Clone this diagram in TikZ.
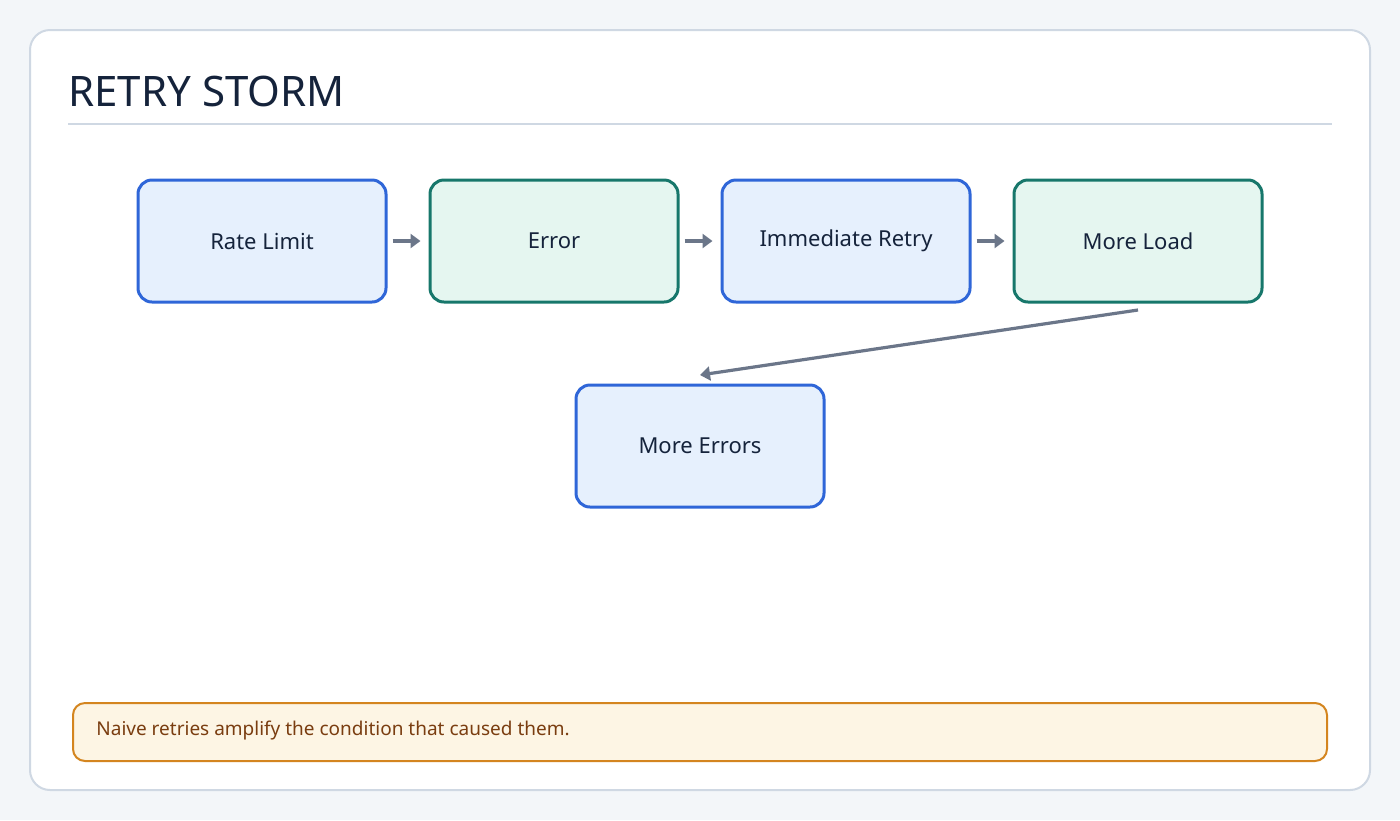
\documentclass[tikz,border=0pt]{standalone}
\usepackage{fontspec}
\setmainfont{Noto Sans}
\usetikzlibrary{arrows.meta}
\definecolor{pagebg}{HTML}{F3F6F9}
\definecolor{cardline}{HTML}{CFD8E3}
\definecolor{titleink}{HTML}{15233B}
\definecolor{blueline}{HTML}{2F66D8}
\definecolor{bluefill}{HTML}{E6F0FD}
\definecolor{greenline}{HTML}{17776B}
\definecolor{greenfill}{HTML}{E5F6F0}
\definecolor{arrowink}{HTML}{6B7689}
\definecolor{noteline}{HTML}{D4851F}
\definecolor{notefill}{HTML}{FDF5E4}
\definecolor{noteink}{HTML}{7A3D10}

\begin{document}
\begin{tikzpicture}[
		x=0.5pt, y=-0.5pt,
		every node/.style={font=\bfseries\fontsize{11}{13}\selectfont, text=titleink},
		stage/.style={rectangle, rounded corners=7pt, line width=1.5pt,
			minimum width=124pt, minimum height=61pt},
		blue stage/.style={stage, draw=blueline, fill=bluefill},
		green stage/.style={stage, draw=greenline, fill=greenfill},
		flow/.style={draw=arrowink, line width=1.6pt, -{Triangle[length=5pt,width=7pt]}}
	]
  \useasboundingbox (0,0) rectangle (1400,820);
  \fill[pagebg] (0,0) rectangle (1400,820);
  \draw[cardline, fill=white, line width=1pt, rounded corners=10pt] (30,30) rectangle (1370,790);
  \node (title) [anchor=base west, font=\bfseries\fontsize{21}{25}\selectfont, inner sep=0pt] at (68,106) {RETRY STORM};
  \draw[cardline, line width=1pt] (68,124) -- (1332,124);

  \node (rate) [blue stage] at (262,241) {Rate Limit};
  \node (error) [green stage] at (554,241) {Error};
  \node (retry) [blue stage] at (846,241) {Immediate Retry};
  \node (load) [green stage] at (1138,241) {More Load};
  \node (errors) [blue stage] at (700,446) {More Errors};
  \coordinate (load_out) at (1138,310);
  \coordinate (errors_in) at (700,375);

  \draw[flow] ([xshift=2.5pt]rate.east) -- ([xshift=-4pt]error.west);
  \draw[flow] ([xshift=2.5pt]error.east) -- ([xshift=-4pt]retry.west);
  \draw[flow] ([xshift=2.5pt]retry.east) -- ([xshift=-4pt]load.west);
  \draw[flow] (load_out) -- (errors_in);

  \node (note) [rectangle, rounded corners=6pt, draw=noteline, fill=notefill, line width=1pt,
	minimum width=627pt, minimum height=29pt] at (700,732) {};
  \node (note_text) [anchor=west, text=noteink, font=\bfseries\fontsize{9.5}{11}\selectfont, inner sep=0pt] at (96,730) {Naive retries amplify the condition that caused them.};
\end{tikzpicture}
\end{document}
